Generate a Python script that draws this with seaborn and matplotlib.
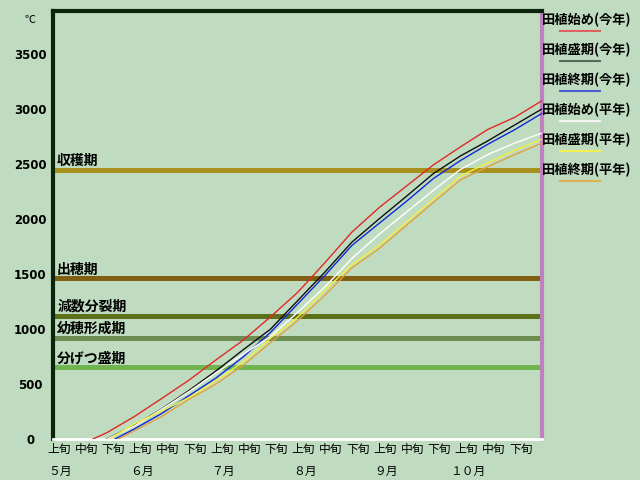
import seaborn as sns
import matplotlib.pyplot as plt
from matplotlib.lines import Line2D

plt.rcParams['font.family'] = ['Noto Sans CJK JP', 'DejaVu Sans']

# x axis in dekads: 0 = start of 5月上旬, 18 = end of 10月下旬
dekad_labels = ['上旬', '中旬', '下旬'] * 6
month_labels = ['５月', '６月', '７月', '８月', '９月', '１０月']

# accumulated temperature (℃) since transplanting
red_x = [1.47] + list(range(2, 19))
red_y = [0, 60, 205, 368, 534, 719, 898, 1109, 1331, 1600, 1880, 2102, 2297,
         2491, 2655, 2813, 2924, 3075]
black_x = [1.98] + list(range(3, 19))
black_y = [0, 125, 273, 440, 619, 811, 997, 1256, 1515, 1789, 2000, 2204,
           2412, 2573, 2709, 2855, 3000]
blue_x = [2.28] + list(range(3, 19))
blue_y = [0, 92, 232, 393, 554, 746, 967, 1226, 1484, 1759, 1959, 2158, 2367,
          2531, 2678, 2812, 2960]
white_x = list(range(2, 19))
white_y = [0, 120, 270, 430, 600, 770, 930, 1150, 1380, 1640, 1860, 2060,
           2260, 2450, 2585, 2690, 2780]
yellow_x = [2.1] + list(range(3, 19))
yellow_y = [0, 140, 255, 375, 530, 700, 915, 1105, 1350, 1585, 1760, 1970,
            2180, 2390, 2510, 2625, 2725]
orange_x = [2.4] + list(range(3, 19))
orange_y = [0, 75, 205, 360, 500, 670, 875, 1075, 1305, 1555, 1730, 1940,
            2150, 2355, 2475, 2585, 2690]

series = [
    ('田植始め(今年)', red_x, red_y, '#e02828', '#e06060'),
    ('田植盛期(今年)', black_x, black_y, '#101010', '#5a6a5a'),
    ('田植終期(今年)', blue_x, blue_y, '#1028d8', '#4a60d0'),
    ('田植始め(平年)', white_x, white_y, '#ffffff', '#f4f4f4'),
    ('田植盛期(平年)', yellow_x, yellow_y, '#f0f040', '#f0f050'),
    ('田植終期(平年)', orange_x, orange_y, '#e0a040', '#e0b050'),
]

# growth stages (required accumulated temperature)
stage_names = ['収穫期', '出穂期', '減数分裂期', '幼穂形成期', '分げつ盛期']
stage_values = [2445, 1461, 1121, 921, 652]
stage_colors = ['#a8901c', '#806010', '#5c7018', '#6c8c50', '#70b450']

bg = '#c0dcc0'
fig = plt.figure(figsize=(6.4, 4.8), dpi=100, facecolor=bg)
ax = fig.add_axes([53 / 640, 41 / 480, 489 / 640, 428 / 480])
ax.set_facecolor(bg)

for name, val, col in zip(stage_names, stage_values, stage_colors):
    ax.axhline(val, color=col, lw=3.6, zorder=1)
    ax.text(0.15, val + 80, name, fontsize=10, fontweight='bold',
            ha='left', va='center', color='black')

for name, xs, ys, col, _ in series:
    sns.lineplot(x=xs, y=ys, color=col, lw=1, estimator=None, ax=ax, zorder=3)

ax.set_xlim(0, 18)
ax.set_ylim(0, 3890)
ax.set_xlabel('')
ax.set_ylabel('')

ax.set_yticks(range(0, 4000, 500))
ax.set_yticklabels([str(v) for v in range(0, 4000, 500)], fontsize=8.5,
                   fontweight='bold', family='DejaVu Sans')
for lab in ax.get_yticklabels():
    lab.set_ha('center')
ax.tick_params(axis='y', length=0, pad=16.5)

ax.xaxis.remove_overlapping_locs = False
ax.set_xticks([i + 0.22 for i in range(18)])
ax.set_xticklabels(dekad_labels, fontsize=8.5)
ax.set_xticks([3 * m + 0.27 for m in range(6)], minor=True)
ax.set_xticklabels(month_labels, minor=True, fontsize=8.5)
ax.tick_params(axis='x', which='major', length=0, pad=3)
ax.tick_params(axis='x', which='minor', length=0, pad=19)

ax.spines['left'].set_color('#0c240c')
ax.spines['left'].set_linewidth(3)
ax.spines['top'].set_color('#0c240c')
ax.spines['top'].set_linewidth(3)
ax.spines['bottom'].set_color('white')
ax.spines['bottom'].set_linewidth(2)
ax.spines['right'].set_color('#c080c0')
ax.spines['right'].set_linewidth(3)

fig.text(30 / 640, 1 - 20 / 480, '℃', fontsize=8, ha='center', va='center')

# legend: text with a short line underneath
for i, (name, _, _, _, lcol) in enumerate(series):
    ty = 1 - (20 + 30 * i) / 480
    fig.text(542 / 640, ty, name, fontsize=9.5, fontweight='bold',
             ha='left', va='center')
    ly = 1 - (31 + 30 * i) / 480
    fig.add_artist(Line2D([560 / 640, 600 / 640], [ly, ly], color=lcol,
                          lw=1.5, transform=fig.transFigure))

fig.savefig('out.png', dpi=100, facecolor=bg)
